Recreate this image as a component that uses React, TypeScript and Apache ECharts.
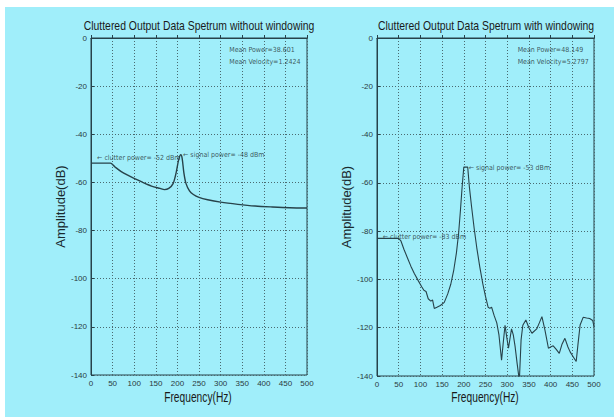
import React, { useEffect, useRef } from "react";
import * as echarts from "echarts";

const titles = [
  "Cluttered Output Data Spetrum without windowing",
  "Cluttered Output Data Spetrum with windowing",
];
const xName = "Frequency(Hz)";
const yName = "Amplitude(dB)";
const xTicks = [0, 50, 100, 150, 200, 250, 300, 350, 400, 450, 500];
const yTicks = [0, -20, -40, -60, -80, -100, -120, -140];

// Left: without windowing
const freq1 = [0, 10, 20, 30, 40, 45, 55, 70, 85, 100, 120, 140, 160, 170, 180, 190, 197, 203, 208, 211, 215, 220, 228, 237, 250, 270, 300, 340, 380, 420, 460, 500];
const amp1 = [-52, -52, -52, -52, -52, -52, -53.5, -55.5, -57, -58.3, -60, -61.5, -62.5, -63, -62.5, -60.5, -56, -50.5, -48.5, -50, -56, -60.5, -63.5, -65, -66.2, -67.2, -68.2, -69.1, -69.8, -70.2, -70.5, -70.6];

// Right: with windowing
const freq2 = [0, 10, 25, 40, 50, 55, 62, 70, 78, 86, 95, 103, 108, 113, 118, 124, 128, 132, 138, 146, 155, 163, 170, 177, 183, 188, 192, 196, 200, 209, 213, 218, 224, 230, 237, 244, 250, 256, 260, 264, 270, 276, 281, 287, 291, 295, 299, 303, 306, 310, 314, 318, 323, 328, 332, 336, 343, 350, 357, 368, 374, 380, 387, 395, 400, 406, 413, 420, 426, 433, 440, 445, 452, 459, 463, 468, 475, 483, 490, 497, 500];
const amp2 = [-83, -83, -83, -83, -83, -84, -87.5, -91, -94.5, -97.5, -100.5, -103, -104.5, -105, -108, -109, -108.5, -112, -111.5, -110.8, -109.5, -106, -102, -96, -89, -81, -72, -62, -53.5, -53.5, -62, -70, -79, -87, -95, -102, -107, -111.5, -112, -111.5, -115, -118, -123, -133.5, -126, -119, -124, -128.5, -125, -120.5, -123, -127.5, -135, -142, -125, -119, -116.8, -120, -122.3, -120.5, -118, -115.4, -121, -128.5, -128, -127.5, -129, -130.6, -127, -124.4, -128, -130, -132, -134, -127, -118.9, -115.7, -116, -116.2, -117, -119.6];

// Annotations: [freq, amplitude, text]
const notes1: [number, number, string][] = [
  [13, -50, "\u2190 clutter power= -52 dBm"],
  [212, -48.5, "\u2190 signal power= -48 dBm"],
];
const notes2: [number, number, string][] = [
  [12, -82.3, "\u2190 clutter power= -83 dBm"],
  [210, -54, "\u2190 signal power= -53 dBm"],
];
const stats1: [number, number, string][] = [[319, -7.5, "Mean Power=38.601\nMean Velocity=1.2424"]];
const stats2: [number, number, string][] = [[323, -7.5, "Mean Power=48.149\nMean Velocity=5.2797"]];

const FONT = "Liberation Sans";
const LINE = "#27424a";
const BG = "#a0eefa";

function xAxis(gridIndex: number) {
  return {
    type: "value",
    gridIndex,
    min: 0,
    max: 500,
    interval: 50,
    axisLine: { show: true, lineStyle: { color: LINE, width: 1 } },
    axisTick: { show: true, inside: true, length: 3, lineStyle: { color: LINE } },
    axisLabel: { fontFamily: FONT, fontSize: 8, color: "#2a3a3e", margin: 4, showMaxLabel: true },
    splitLine: { show: true, lineStyle: { type: [1, 2], color: "#4a6a70", width: 1 } },
  };
}
function yAxis(gridIndex: number, gap: number) {
  return {
    type: "value",
    gridIndex,
    min: -140,
    max: 0,
    interval: 20,
    name: yName,
    nameLocation: "middle",
    nameGap: gap,
    nameTextStyle: { fontFamily: FONT, fontSize: 13, color: "#1a2a2e" },
    axisLine: { show: true, lineStyle: { color: LINE, width: 1 } },
    axisTick: { show: true, inside: true, length: 3, lineStyle: { color: LINE } },
    axisLabel: { fontFamily: FONT, fontSize: 8, color: "#2a3a3e", margin: 4 },
    splitLine: { show: true, lineStyle: { type: [1, 2], color: "#4a6a70", width: 1 } },
  };
}
function noteSeries(idx: number, data: [number, number, string][], size: number, lh: number) {
  return {
    type: "scatter",
    xAxisIndex: idx,
    yAxisIndex: idx,
    symbolSize: 1,
    itemStyle: { color: "rgba(0,0,0,0)" },
    data: data.map((d) => ({ value: [d[0], d[1]], name: d[2] })),
    label: {
      show: true,
      position: "right",
      distance: 0,
      formatter: (p: any) => p.name,
      fontFamily: "DejaVu Sans Condensed, DejaVu Sans",
      fontSize: size,
      lineHeight: lh,
      color: "#1e2e32",
    },
    silent: true,
  };
}
function label(text: string, x: number, y: number, size: number, sx: number) {
  return {
    type: "text",
    x,
    y,
    scaleX: sx,
    style: { text, fontFamily: FONT, fontSize: size, fill: "#1a1a1a", align: "center", verticalAlign: "middle" },
    z: 10,
  };
}

export default function App() {
  const ref = useRef<HTMLDivElement>(null);
  useEffect(() => {
    if (!ref.current) return;
    const chart = echarts.init(ref.current, null, { renderer: "svg" });
    chart.setOption({
      animation: false,
      backgroundColor: "#ffffff",
      graphic: [
        { type: "rect", shape: { x: 5, y: 7, width: 609, height: 410 }, style: { fill: BG }, z: -10 },
        label(titles[0], 199, 25, 13, 0.8),
        label(titles[1], 486, 25, 13, 0.8),
        label(xName, 198, 397, 14, 0.73),
        label(xName, 485, 397, 14, 0.73),
      ],
      grid: [
        { left: 91, top: 38, width: 216, height: 337, show: true, borderColor: LINE, borderWidth: 1, backgroundColor: "transparent" },
        { left: 377, top: 38, width: 217, height: 338, show: true, borderColor: LINE, borderWidth: 1, backgroundColor: "transparent" },
      ],
      xAxis: [xAxis(0), xAxis(1)],
      yAxis: [yAxis(0, 22), yAxis(1, 20)],
      series: [
        {
          type: "line",
          xAxisIndex: 0,
          yAxisIndex: 0,
          data: freq1.map((f, i) => [f, amp1[i]]),
          showSymbol: false,
          smooth: 0.3,
          lineStyle: { color: LINE, width: 1.4 },
        },
        {
          type: "line",
          xAxisIndex: 1,
          yAxisIndex: 1,
          data: freq2.map((f, i) => [f, amp2[i]]),
          showSymbol: false,
          lineStyle: { color: LINE, width: 1.1 },
        },
        noteSeries(0, notes1, 7, 9),
        noteSeries(1, notes2, 7, 9),
        noteSeries(0, stats1, 7, 12),
        noteSeries(1, stats2, 7, 12),
      ],
    });
    return () => chart.dispose();
  }, []);
  return <div ref={ref} style={{ position: "fixed", left: 0, top: 0, width: 614, height: 417 }} />;
}
